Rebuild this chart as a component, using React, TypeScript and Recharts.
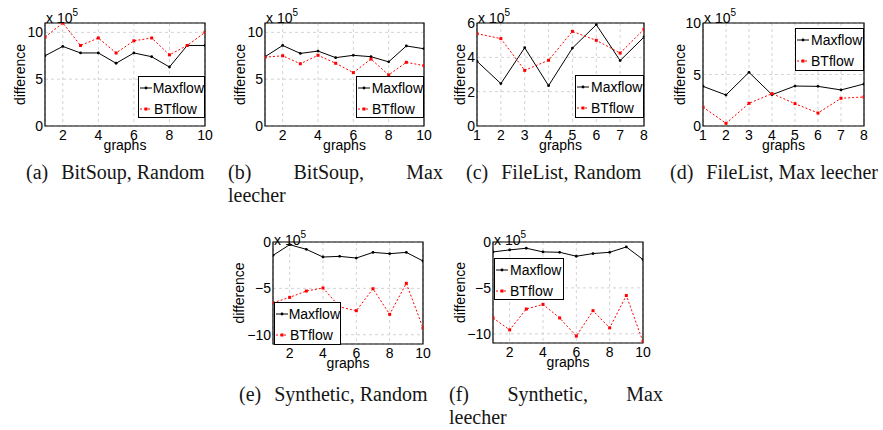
import React from 'react';
import { LineChart, Line, XAxis, YAxis, CartesianGrid, ReferenceArea, Legend } from 'recharts';

// ---------- data (values in units of 10^5) ----------
const graphs10 = [1, 2, 3, 4, 5, 6, 7, 8, 9, 10];
const graphs8 = [1, 2, 3, 4, 5, 6, 7, 8];

const maxflowA = [7.5, 8.5, 7.8, 7.8, 6.7, 7.8, 7.4, 6.3, 8.6, 8.6];
const btflowA = [9.5, 11.0, 8.6, 9.4, 7.8, 9.1, 9.4, 7.6, 8.6, 10.0];

const maxflowB = [7.4, 8.6, 7.75, 8.0, 7.3, 7.55, 7.4, 6.85, 8.55, 8.25];
const btflowB = [7.35, 7.5, 6.65, 7.55, 6.7, 5.7, 7.15, 5.45, 6.8, 6.45];

const maxflowC = [3.77, 2.47, 4.56, 2.35, 4.54, 5.9, 3.81, 5.18];
const btflowC = [5.38, 5.09, 3.24, 3.83, 5.51, 4.99, 4.25, 5.63];

const maxflowD = [3.85, 3.01, 5.21, 3.04, 3.88, 3.85, 3.5, 4.08];
const btflowD = [1.84, 0.26, 2.2, 3.14, 2.17, 1.26, 2.69, 2.82];

const maxflowE = [-1.44, -0.29, -0.79, -1.62, -1.55, -1.73, -1.12, -1.26, -1.12, -2.05];
const btflowE = [-6.55, -5.97, -5.29, -4.96, -7.0, -7.41, -5.04, -7.8, -4.46, -9.28];

const maxflowF = [-1.08, -0.86, -0.68, -1.08, -1.12, -1.55, -1.26, -1.12, -0.54, -1.91];
const btflowF = [-8.27, -9.57, -7.3, -6.8, -8.27, -10.25, -7.48, -9.35, -5.83, -10.86];

const xTicks10 = [2, 4, 6, 8, 10];
const xTicks8 = [1, 2, 3, 4, 5, 6, 7, 8];
const yTicks10 = [0, 5, 10];
const yTicks6 = [0, 2, 4, 6];
const yTicksNeg = [-10, -5, 0];

const seriesNames = ['Maxflow', 'BTflow'];
const xLabel = 'graphs';
const yLabel = 'difference';
const scaleBase = 'x 10';
const scaleExp = '5';

const captionA = ['(a)', 'BitSoup, Random'];
const captionB = ['(b)', 'BitSoup,', 'Max', 'leecher'];
const captionC = ['(c)', 'FileList, Random'];
const captionD = ['(d)', 'FileList, Max leecher'];
const captionE = ['(e)', 'Synthetic, Random'];
const captionF = ['(f)', 'Synthetic,', 'Max', 'leecher'];

// ---------- layout ----------
const SANS = '"Liberation Sans", Arial, Helvetica, sans-serif';
const SERIF = '"Liberation Serif", "Times New Roman", serif';
const RED = '#ff0000';

type PanelCfg = {
  left: number; top: number; pw: number; ph: number;
  x: number[]; maxflow: number[]; btflow: number[];
  xDomain: [number, number]; yDomain: [number, number];
  xTicks: number[]; yTicks: number[];
  lgX: number; lgY: number; lgW: number; lgH: number;
  ylOff: number; scaleDy: number;
};

const panels: PanelCfg[] = [
  { left: 45, top: 23, pw: 160, ph: 103, x: graphs10, maxflow: maxflowA, btflow: btflowA,
    xDomain: [1, 10], yDomain: [0, 11], xTicks: xTicks10, yTicks: yTicks10,
    lgX: 93, lgY: 53, lgW: 67, lgH: 42, ylOff: 25, scaleDy: 0 },
  { left: 265, top: 23, pw: 159, ph: 103, x: graphs10, maxflow: maxflowB, btflow: btflowB,
    xDomain: [1, 10], yDomain: [0, 11], xTicks: xTicks10, yTicks: yTicks10,
    lgX: 91, lgY: 53, lgW: 68, lgH: 42, ylOff: 25, scaleDy: 0 },
  { left: 477, top: 23, pw: 167, ph: 103, x: graphs8, maxflow: maxflowC, btflow: btflowC,
    xDomain: [1, 8], yDomain: [0, 6], xTicks: xTicks8, yTicks: yTicks6,
    lgX: 98, lgY: 52, lgW: 69, lgH: 43, ylOff: 17, scaleDy: 0 },
  { left: 703, top: 23, pw: 161, ph: 103, x: graphs8, maxflow: maxflowD, btflow: btflowD,
    xDomain: [1, 8], yDomain: [0, 10], xTicks: xTicks8, yTicks: yTicks10,
    lgX: 92, lgY: 5, lgW: 69, lgH: 43, ylOff: 23, scaleDy: 0 },
  { left: 273, top: 242, pw: 150, ph: 102, x: graphs10, maxflow: maxflowE, btflow: btflowE,
    xDomain: [1, 10], yDomain: [-11, 0], xTicks: xTicks10, yTicks: yTicksNeg,
    lgX: 1, lgY: 60, lgW: 67, lgH: 43, ylOff: 34, scaleDy: 3 },
  { left: 493, top: 242, pw: 150, ph: 101, x: graphs10, maxflow: maxflowF, btflow: btflowF,
    xDomain: [1, 10], yDomain: [-11, 0], xTicks: xTicks10, yTicks: yTicksNeg,
    lgX: 1, lgY: 16, lgW: 70, lgH: 42, ylOff: 33, scaleDy: 3 },
];

const ML = 45, MT = 23, MR = 12, XH = 40;

const fmt = (v: number) => (v < 0 ? '\u2212' + Math.abs(v) : String(v));

const RedSquare = (p: any) => {
  if (p.cx == null || p.cy == null) return <g key={p.index} />;
  return <rect key={p.index} x={p.cx - 1.5} y={p.cy - 1.5} width={3} height={3} fill={RED} />;
};
const BlackDot = (p: any) => {
  if (p.cx == null || p.cy == null) return <g key={p.index} />;
  return <circle key={p.index} cx={p.cx} cy={p.cy} r={1.4} fill="#000" />;
};

function LegendBox() {
  const row: React.CSSProperties = { display: 'flex', alignItems: 'center', height: 21 };
  return (
    <div style={{ boxSizing: 'border-box', width: '100%', height: '100%', border: '1px solid #000',
      background: '#fff', fontFamily: SANS, fontSize: 14, color: '#000', paddingTop: 0 }}>
      <div style={row}>
        <svg width={13} height={10} style={{ marginLeft: 1 }}>
          <line x1={0} y1={5} x2={12} y2={5} stroke="#000" strokeWidth={1} />
          <circle cx={6} cy={5} r={1.4} fill="#000" />
        </svg>
        <span style={{ marginLeft: 1 }}>{seriesNames[0]}</span>
      </div>
      <div style={row}>
        <svg width={13} height={10} style={{ marginLeft: 1 }}>
          <line x1={0} y1={5} x2={12} y2={5} stroke={RED} strokeWidth={1} strokeDasharray="2 2" />
          <rect x={4.5} y={3.5} width={3} height={3} fill={RED} />
        </svg>
        <span style={{ marginLeft: 1 }}>{seriesNames[1]}</span>
      </div>
    </div>
  );
}

function Panel({ cfg }: { cfg: PanelCfg }) {
  const w = ML + cfg.pw + MR;
  const h = MT + cfg.ph + XH;
  const data = cfg.x.map((g, i) => ({ graph: g, maxflow: cfg.maxflow[i], btflow: cfg.btflow[i] }));
  const yLabelEl = () => (
    <g>
      <text x={ML - cfg.ylOff} y={MT + cfg.ph / 2} transform={`rotate(-90 ${ML - cfg.ylOff} ${MT + cfg.ph / 2})`}
        textAnchor="middle" dominantBaseline="central" fontFamily={SANS} fontSize={14} fill="#000">{yLabel}</text>
      <text x={ML + 1} y={MT + cfg.scaleDy} fontFamily={SANS} fontSize={14} fill="#000">
        {scaleBase}
        <tspan fontSize={10} dy={-7}>{scaleExp}</tspan>
      </text>
    </g>
  );
  const xLabelEl = () => (
    <text x={ML + cfg.pw / 2} y={MT + cfg.ph + 24} textAnchor="middle" fontFamily={SANS} fontSize={14} fill="#000">{xLabel}</text>
  );
  return (
    <div style={{ position: 'absolute', left: cfg.left - ML, top: cfg.top - MT }}>
      <LineChart width={w} height={h} data={data} margin={{ top: MT, right: MR, left: 0, bottom: 0 }}>
        <CartesianGrid stroke="#c8c8c8" strokeDasharray="3 3" strokeWidth={0.8} />
        <XAxis dataKey="graph" type="number" domain={cfg.xDomain} ticks={cfg.xTicks} interval={0}
          allowDataOverflow height={XH} axisLine={false} tickLine={false} tickSize={0} tickMargin={0}
          label={xLabelEl}
          tick={(p: any) => (
            <text key={p.index} x={p.x} y={p.y + 14} textAnchor="middle" fontFamily={SANS} fontSize={14} fill="#000">
              {fmt(p.payload.value)}
            </text>
          )} />
        <YAxis type="number" domain={cfg.yDomain} ticks={cfg.yTicks} interval={0} allowDataOverflow
          width={ML} axisLine={false} tickLine={false} tickSize={0} tickMargin={0}
          label={yLabelEl}
          tick={(p: any) => (
            <text key={p.index} x={p.x - 2} y={p.y + 5} textAnchor="end" fontFamily={SANS} fontSize={14} fill="#000">
              {fmt(p.payload.value)}
            </text>
          )} />
        <Line dataKey="maxflow" stroke="#000" strokeWidth={1} dot={BlackDot} activeDot={false} isAnimationActive={false} />
        <Line dataKey="btflow" stroke={RED} strokeWidth={1} strokeDasharray="2 2" dot={RedSquare} activeDot={false} isAnimationActive={false} />
        <ReferenceArea x1={cfg.xDomain[0]} x2={cfg.xDomain[1]} y1={cfg.yDomain[0]} y2={cfg.yDomain[1]}
          fill="none" fillOpacity={0} stroke="#000" strokeWidth={1.2} ifOverflow="visible" />
        <Legend layout="vertical" align="center" verticalAlign="middle"
          wrapperStyle={{ left: ML + cfg.lgX, top: MT + cfg.lgY, width: cfg.lgW, height: cfg.lgH }}
          content={() => <LegendBox />} />
      </LineChart>
    </div>
  );
}

const capStyle: React.CSSProperties = {
  position: 'absolute', fontFamily: SERIF, fontSize: 20, lineHeight: '23px', color: '#151515', whiteSpace: 'nowrap',
};

function Caption({ left, top, parts }: { left: number; top: number; parts: string[] }) {
  return (
    <div style={{ ...capStyle, left, top }}>
      <span>{parts[0]}</span><span style={{ marginLeft: 13 }}>{parts[1]}</span>
    </div>
  );
}

function SplitCaption({ left, top, width, parts }: { left: number; top: number; width: number; parts: string[] }) {
  return (
    <div style={{ ...capStyle, left, top, width }}>
      <div style={{ display: 'flex', justifyContent: 'space-between' }}>
        <span>{parts[0]}</span><span>{parts[1]}</span><span>{parts[2]}</span>
      </div>
      <div>{parts[3]}</div>
    </div>
  );
}

export default function App() {
  return (
    <div style={{ position: 'absolute', left: 0, top: 0, width: 883, height: 430, background: '#fff', overflow: 'hidden' }}>
      {panels.map((cfg, i) => <Panel key={i} cfg={cfg} />)}
      <Caption left={26} top={161} parts={captionA} />
      <SplitCaption left={228} top={161} width={215} parts={captionB} />
      <Caption left={466} top={161} parts={captionC} />
      <Caption left={670} top={161} parts={captionD} />
      <Caption left={239} top={383} parts={captionE} />
      <SplitCaption left={449} top={383} width={214} parts={captionF} />
    </div>
  );
}
